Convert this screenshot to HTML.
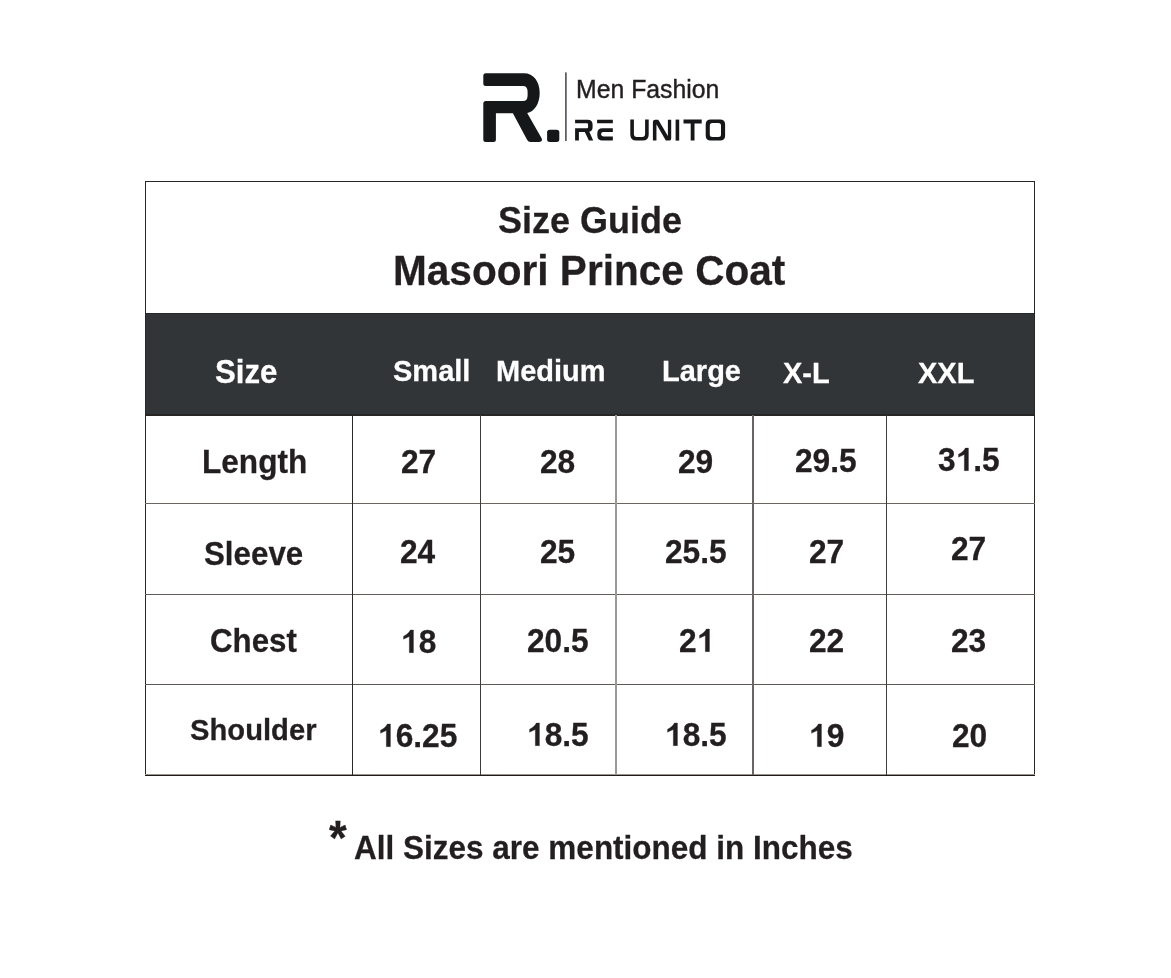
<!DOCTYPE html>
<html><head><meta charset="utf-8"><style>
html,body{margin:0;padding:0;background:#fff;}
body{width:1171px;height:978px;position:relative;overflow:hidden;font-family:"Liberation Sans",sans-serif;}
.t{position:absolute;line-height:1;white-space:pre;will-change:transform;}
.l{position:absolute;}
.one{position:relative;color:transparent;-webkit-text-stroke-color:transparent !important;}
.one svg{position:absolute;left:0;top:0;width:1em;height:1em;overflow:visible;fill:#231f20;stroke:#231f20;stroke-width:8;}
</style></head><body>
<!-- header band -->
<div class="l" style="left:145px;top:313px;width:890px;height:102px;background:#313538"></div>
<div class="l" style="left:145px;top:313px;width:890px;height:1px;background:#25282a"></div>
<div class="l" style="left:145px;top:414px;width:890px;height:2px;background:#272624"></div>
<!-- table frame -->
<div class="l" style="left:145px;top:181px;width:890px;height:1px;background:#2a2624"></div>
<div class="l" style="left:145px;top:181px;width:1px;height:595px;background:#2a2624"></div>
<div class="l" style="left:1034px;top:181px;width:1px;height:595px;background:#2a2624"></div>
<div class="l" style="left:145px;top:775px;width:890px;height:1px;background:#1f1b19"></div>
<div class="l" style="left:145px;top:774px;width:890px;height:1px;background:#9a9592"></div>
<!-- row lines -->
<div class="l" style="left:145px;top:503px;width:890px;height:1px;background:#6b6662"></div>
<div class="l" style="left:145px;top:594px;width:890px;height:1px;background:#625d5a"></div>
<div class="l" style="left:145px;top:684px;width:890px;height:1px;background:#5e5956"></div>
<!-- column lines -->
<div class="l" style="left:352px;top:415px;width:1px;height:360px;background:#2c2826"></div>
<div class="l" style="left:480px;top:415px;width:1px;height:360px;background:#3f3b38"></div>
<div class="l" style="left:615px;top:415px;width:2px;height:360px;background:#9b9896"></div>
<div class="l" style="left:752px;top:415px;width:2px;height:360px;background:#6a6562"></div>
<div class="l" style="left:886px;top:415px;width:1px;height:360px;background:#3f3b38"></div>
<!-- logo -->
<svg width="1171" height="978" style="position:absolute;left:0;top:0">
<path fill="#151719" d="M485.8 73.3 H524 C533.5 73.3 539.7 81.5 539.7 93 C539.7 104 534 112 527.2 112.9 L541.6 138.2 Q543 141.9 539 141.9 H530.5 Q528.3 141.9 527.2 140 L512.9 113.2 H495.9 V139.4 Q495.9 141.9 493.4 141.9 H485.8 Q483.3 141.9 483.3 139.4 V103.5 Q483.3 101 485.8 101 H523 Q527.6 101 527.6 95.5 V91.5 Q527.6 85.9 523 85.9 H485.8 Q483.3 85.9 483.3 83.4 V75.8 Q483.3 73.3 485.8 73.3 Z"/>
<rect x="547.1" y="129.7" width="12.2" height="12.2" rx="2.6" fill="#151719"/>
<rect x="565.1" y="72.4" width="1.6" height="68.6" fill="#4a4f54"/>
<g fill="#151719">
<path d="M575.1 119.7 H587.6 Q592.6 119.7 592.6 124.7 V126.9 Q592.6 131.2 589.3 131.7 L593.2 140.5 H588.9 L584.8 131.9 H578.9 V140.5 H575.1 V128.2 H586.9 Q588.1 128.2 588.1 127 V124.5 Q588.1 123.25 586.9 123.25 H575.1 Z"/>
<path d="M597.1 119.7 H612.85 V123.25 H597.1 Z M612.85 128.2 V131.9 H603.3 Q601.1 131.9 601.1 134.1 V134.3 Q601.1 136.4 603.3 136.4 H612.85 V140.5 H602.5 Q597.3 140.5 597.3 135.3 V133.4 Q597.3 128.2 602.5 128.2 Z"/>
<path d="M630.3 119.5 H633.9 V134 Q633.9 137 636.9 137 H642.1 Q645.1 137 645.1 134 V119.5 H648.7 V134.6 Q648.7 140.6 642.7 140.6 H636.3 Q630.3 140.6 630.3 134.6 Z"/>
<path d="M652.9 122 Q652.9 119.7 655.2 119.7 H658.3 L667.9 136 V119.7 H671.2 V138.4 Q671.2 140.6 669 140.6 H665.8 L656.45 124.3 V140.6 H652.9 Z"/>
<rect x="675.6" y="119.6" width="3.6" height="21"/>
<path d="M683.5 119.6 H701.7 V123.5 H694.5 V140.6 H690.7 V123.5 H683.5 Z"/>
<path fill-rule="evenodd" d="M710.7 119.6 H720.1 Q725.1 119.6 725.1 124.6 V135.6 Q725.1 140.6 720.1 140.6 H710.7 Q705.7 140.6 705.7 135.6 V124.6 Q705.7 119.6 710.7 119.6 Z M712.3 123.1 Q709.8 123.1 709.8 125.6 V134.5 Q709.8 137 712.3 137 H718.5 Q721 137 721 134.5 V125.6 Q721 123.1 718.5 123.1 Z"/>
</g>
</svg>
<div class="t" style="left:498.25px;top:203.34px;font-size:36.0px;font-weight:700;color:#231f20;transform-origin:0 30.47px;transform:scaleY(1.04);-webkit-text-stroke:0.25px #231f20">Size Guide</div>
<div class="t" style="left:393.19px;top:250.99px;font-size:40.6px;font-weight:700;color:#231f20;transform-origin:0 34.37px;transform:scaleY(1.04);-webkit-text-stroke:0.25px #231f20">Masoori Prince Coat</div>
<div class="t" style="left:215.20px;top:357.24px;font-size:31.2px;font-weight:700;color:#ffffff;transform-origin:0 26.41px;transform:scaleY(1.04);-webkit-text-stroke:0.25px #ffffff">Size</div>
<div class="t" style="left:392.54px;top:356.97px;font-size:29.0px;font-weight:700;color:#ffffff;transform-origin:0 24.55px;transform:scaleY(1.04);-webkit-text-stroke:0.25px #ffffff">Small</div>
<div class="t" style="left:496.29px;top:356.97px;font-size:29.0px;font-weight:700;color:#ffffff;transform-origin:0 24.55px;transform:scaleY(1.04);-webkit-text-stroke:0.25px #ffffff">Medium</div>
<div class="t" style="left:662.37px;top:357.05px;font-size:29.0px;font-weight:700;color:#ffffff;transform-origin:0 24.55px;transform:scaleY(1.04);-webkit-text-stroke:0.25px #ffffff">Large</div>
<div class="t" style="left:782.77px;top:359.07px;font-size:29.0px;font-weight:700;color:#ffffff;transform-origin:0 24.55px;transform:scaleY(1.04);-webkit-text-stroke:0.25px #ffffff">X-L</div>
<div class="t" style="left:917.68px;top:359.07px;font-size:29.0px;font-weight:700;color:#ffffff;transform-origin:0 24.55px;transform:scaleY(1.04);-webkit-text-stroke:0.25px #ffffff">XXL</div>
<div class="t" style="left:201.90px;top:446.65px;font-size:31.6px;font-weight:700;color:#231f20;transform-origin:0 26.75px;transform:scaleY(1.04);-webkit-text-stroke:0.25px #231f20">Length</div>
<div class="t" style="left:401.17px;top:446.65px;font-size:31.7px;font-weight:700;color:#231f20;transform-origin:0 26.83px;transform:scaleY(1.04);-webkit-text-stroke:0.25px #231f20">27</div>
<div class="t" style="left:540.01px;top:447.34px;font-size:31.7px;font-weight:700;color:#231f20;transform-origin:0 26.83px;transform:scaleY(1.04);-webkit-text-stroke:0.25px #231f20">28</div>
<div class="t" style="left:678.45px;top:447.34px;font-size:31.7px;font-weight:700;color:#231f20;transform-origin:0 26.83px;transform:scaleY(1.04);-webkit-text-stroke:0.25px #231f20">29</div>
<div class="t" style="left:795.37px;top:446.32px;font-size:31.7px;font-weight:700;color:#231f20;transform-origin:0 26.83px;transform:scaleY(1.04);-webkit-text-stroke:0.25px #231f20">29.5</div>
<div class="t" style="left:938.26px;top:444.72px;font-size:31.7px;font-weight:700;color:#231f20;transform-origin:0 26.83px;transform:scaleY(1.04);-webkit-text-stroke:0.25px #231f20">3<span class="one" style="-webkit-text-stroke:0 transparent">1<svg viewBox="0 0 1000 1000" preserveAspectRatio="none"><path d="M394 217 V905 H262 V417 L79 500 V408 C175 360 262 290 294 217 Z"/></svg></span>.5</div>
<div class="t" style="left:204.42px;top:539.22px;font-size:31.3px;font-weight:700;color:#231f20;transform-origin:0 26.50px;transform:scaleY(1.04);-webkit-text-stroke:0.25px #231f20">Sleeve</div>
<div class="t" style="left:400.11px;top:537.43px;font-size:31.7px;font-weight:700;color:#231f20;transform-origin:0 26.83px;transform:scaleY(1.04);-webkit-text-stroke:0.25px #231f20">24</div>
<div class="t" style="left:539.93px;top:536.92px;font-size:31.7px;font-weight:700;color:#231f20;transform-origin:0 26.83px;transform:scaleY(1.04);-webkit-text-stroke:0.25px #231f20">25</div>
<div class="t" style="left:665.19px;top:536.92px;font-size:31.7px;font-weight:700;color:#231f20;transform-origin:0 26.83px;transform:scaleY(1.04);-webkit-text-stroke:0.25px #231f20">25.5</div>
<div class="t" style="left:808.81px;top:537.39px;font-size:31.7px;font-weight:700;color:#231f20;transform-origin:0 26.83px;transform:scaleY(1.04);-webkit-text-stroke:0.25px #231f20">27</div>
<div class="t" style="left:951.44px;top:533.75px;font-size:31.7px;font-weight:700;color:#231f20;transform-origin:0 26.83px;transform:scaleY(1.04);-webkit-text-stroke:0.25px #231f20">27</div>
<div class="t" style="left:209.74px;top:626.30px;font-size:31.3px;font-weight:700;color:#231f20;transform-origin:0 26.50px;transform:scaleY(1.04);-webkit-text-stroke:0.25px #231f20">Chest</div>
<div class="t" style="left:400.76px;top:627.24px;font-size:31.7px;font-weight:700;color:#231f20;transform-origin:0 26.83px;transform:scaleY(1.04);-webkit-text-stroke:0.25px #231f20"><span class="one" style="-webkit-text-stroke:0 transparent">1<svg viewBox="0 0 1000 1000" preserveAspectRatio="none"><path d="M394 217 V905 H262 V417 L79 500 V408 C175 360 262 290 294 217 Z"/></svg></span>8</div>
<div class="t" style="left:526.96px;top:625.76px;font-size:31.7px;font-weight:700;color:#231f20;transform-origin:0 26.83px;transform:scaleY(1.04);-webkit-text-stroke:0.25px #231f20">20.5</div>
<div class="t" style="left:679.39px;top:626.07px;font-size:31.7px;font-weight:700;color:#231f20;transform-origin:0 26.83px;transform:scaleY(1.04);-webkit-text-stroke:0.25px #231f20">2<span class="one" style="-webkit-text-stroke:0 transparent">1<svg viewBox="0 0 1000 1000" preserveAspectRatio="none"><path d="M394 217 V905 H262 V417 L79 500 V408 C175 360 262 290 294 217 Z"/></svg></span></div>
<div class="t" style="left:809.26px;top:625.67px;font-size:31.7px;font-weight:700;color:#231f20;transform-origin:0 26.83px;transform:scaleY(1.04);-webkit-text-stroke:0.25px #231f20">22</div>
<div class="t" style="left:951.36px;top:626.16px;font-size:31.7px;font-weight:700;color:#231f20;transform-origin:0 26.83px;transform:scaleY(1.04);-webkit-text-stroke:0.25px #231f20">23</div>
<div class="t" style="left:189.63px;top:716.09px;font-size:29.2px;font-weight:700;color:#231f20;transform-origin:0 24.72px;transform:scaleY(1.04);-webkit-text-stroke:0.25px #231f20">Shoulder</div>
<div class="t" style="left:377.65px;top:720.70px;font-size:31.7px;font-weight:700;color:#231f20;transform-origin:0 26.83px;transform:scaleY(1.04);-webkit-text-stroke:0.25px #231f20"><span class="one" style="-webkit-text-stroke:0 transparent">1<svg viewBox="0 0 1000 1000" preserveAspectRatio="none"><path d="M394 217 V905 H262 V417 L79 500 V408 C175 360 262 290 294 217 Z"/></svg></span>6.25</div>
<div class="t" style="left:526.77px;top:719.70px;font-size:31.7px;font-weight:700;color:#231f20;transform-origin:0 26.83px;transform:scaleY(1.04);-webkit-text-stroke:0.25px #231f20"><span class="one" style="-webkit-text-stroke:0 transparent">1<svg viewBox="0 0 1000 1000" preserveAspectRatio="none"><path d="M394 217 V905 H262 V417 L79 500 V408 C175 360 262 290 294 217 Z"/></svg></span>8.5</div>
<div class="t" style="left:665.40px;top:719.52px;font-size:31.7px;font-weight:700;color:#231f20;transform-origin:0 26.83px;transform:scaleY(1.04);-webkit-text-stroke:0.25px #231f20"><span class="one" style="-webkit-text-stroke:0 transparent">1<svg viewBox="0 0 1000 1000" preserveAspectRatio="none"><path d="M394 217 V905 H262 V417 L79 500 V408 C175 360 262 290 294 217 Z"/></svg></span>8.5</div>
<div class="t" style="left:808.84px;top:720.60px;font-size:31.7px;font-weight:700;color:#231f20;transform-origin:0 26.83px;transform:scaleY(1.04);-webkit-text-stroke:0.25px #231f20"><span class="one" style="-webkit-text-stroke:0 transparent">1<svg viewBox="0 0 1000 1000" preserveAspectRatio="none"><path d="M394 217 V905 H262 V417 L79 500 V408 C175 360 262 290 294 217 Z"/></svg></span>9</div>
<div class="t" style="left:951.62px;top:720.60px;font-size:31.7px;font-weight:700;color:#231f20;transform-origin:0 26.83px;transform:scaleY(1.04);-webkit-text-stroke:0.25px #231f20">20</div>
<div class="t" style="left:328.99px;top:816.29px;font-size:45.5px;font-weight:700;color:#231f20;transform-origin:0 38.52px;transform:scaleY(1.04);-webkit-text-stroke:0.25px #231f20">*</div>
<div class="t" style="left:353.80px;top:832.63px;font-size:31.5px;font-weight:700;color:#231f20;transform-origin:0 26.66px;transform:scaleY(1.04);-webkit-text-stroke:0.25px #231f20">All Sizes are mentioned in Inches</div>
<div class="t" style="left:576.28px;top:77.68px;font-size:24.8px;font-weight:400;color:#231f20;transform-origin:0 20.99px;transform:scaleY(1.04);-webkit-text-stroke:0.4px #231f20">Men Fashion</div>
</body></html>
